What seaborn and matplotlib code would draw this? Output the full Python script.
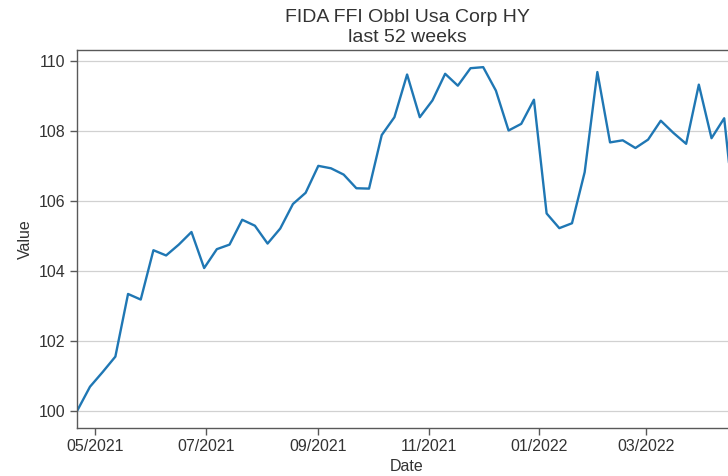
import matplotlib
matplotlib.use("Agg")
import matplotlib.dates as mdates
import pandas as pd
import seaborn as sns
from matplotlib import pyplot as plt

# weekly values
start_date = "2021-04-21"
values = [
    100.02, 100.70, 101.12, 101.56, 103.35, 103.19, 104.60, 104.45, 104.76, 105.12,
    104.09, 104.63, 104.76, 105.47, 105.30, 104.79, 105.22, 105.92, 106.24, 107.01,
    106.94, 106.76, 106.37, 106.36, 107.89, 108.40, 109.62, 108.40, 108.88, 109.64,
    109.30, 109.80, 109.83, 109.16, 108.02, 108.21, 108.90, 105.65, 105.23, 105.37,
    106.83, 109.69, 107.68, 107.74, 107.52, 107.76, 108.30, 107.95, 107.64, 109.33,
    107.80, 108.37, 105.00,
]
title = "FIDA FFI Obbl Usa Corp HY\nlast 52 weeks"

df = pd.DataFrame({
    "Date": pd.date_range(start_date, periods=len(values), freq="7D"),
    "Value": values,
})

sns.set_theme(context="notebook", style="ticks")
plt.rcParams["font.family"] = ["Liberation Sans", "DejaVu Sans"]

fig = plt.figure(figsize=(7.28, 4.76), dpi=100)
# the original was cropped on the right, so the axes run past the figure edge
ax = fig.add_axes([0.1062, 0.1015, 0.906, 0.7935])

sns.lineplot(data=df, x="Date", y="Value", ax=ax, color="#1f77b4", linewidth=1.7)

ax.set_xlim(df["Date"].iloc[0], df["Date"].iloc[-1])
ax.xaxis.set_major_locator(mdates.MonthLocator(bymonth=[1, 3, 5, 7, 9, 11]))
ax.xaxis.set_major_formatter(mdates.DateFormatter("%m/%Y"))
ax.set_yticks([100, 102, 104, 106, 108, 110])
ax.yaxis.grid(True, color="0.82", linewidth=0.9)
ax.set_axisbelow(True)

for spine in ax.spines.values():
    spine.set_color("0.35")
    spine.set_linewidth(1.0)

ax.tick_params(labelsize=11.5, colors="0.35", labelcolor="0.2", width=1.0, length=5)
ax.set_xlabel("Date", fontsize=11.5, labelpad=3, color="0.2")
ax.set_ylabel("Value", fontsize=11.5, color="0.2")
ax.set_title(title, fontsize=14, pad=6, color="0.2")

fig.savefig("out.png", dpi=100, facecolor="white")
plt.close(fig)
